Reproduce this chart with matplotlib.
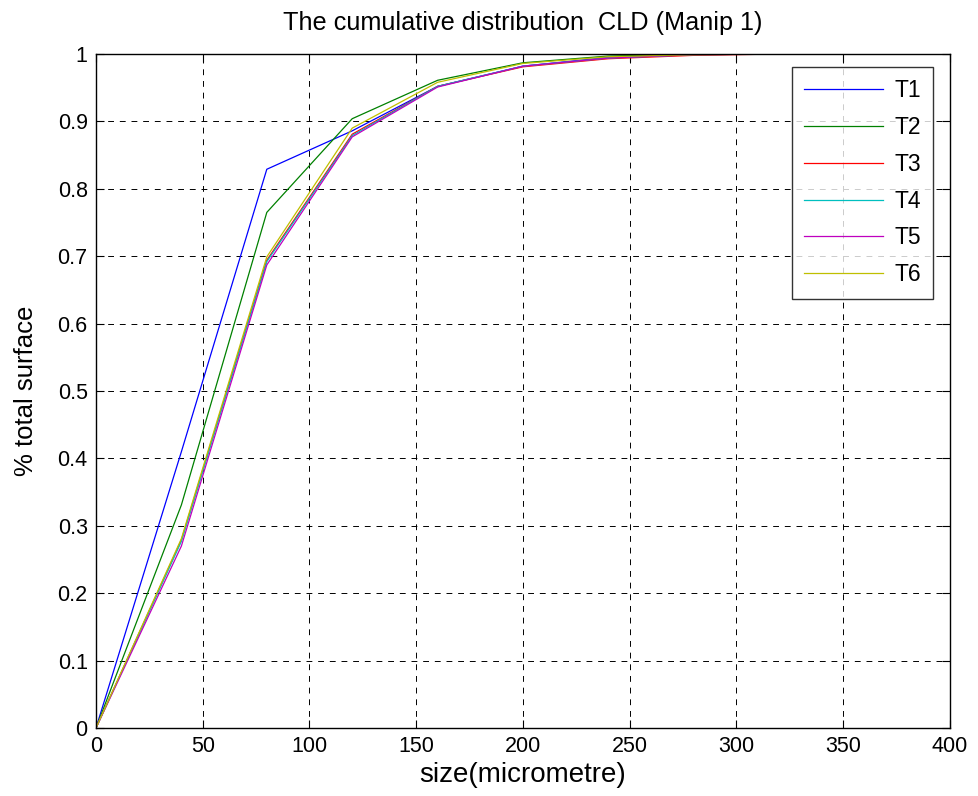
import matplotlib
matplotlib.use("Agg")
import matplotlib.pyplot as plt

plt.rcParams['font.family'] = ['Liberation Sans', 'DejaVu Sans']

size_um = [0, 40, 80, 120, 160, 200, 240, 280, 320, 360, 400]
T1 = [0, 0.410, 0.829, 0.886, 0.952, 0.982, 0.995, 0.999, 1.0, 1.0, 1.0]
T2 = [0, 0.331, 0.765, 0.904, 0.961, 0.987, 0.997, 1.0, 1.0, 1.0, 1.0]
T3 = [0, 0.279, 0.694, 0.881, 0.952, 0.981, 0.993, 0.998, 1.0, 1.0, 1.0]
T4 = [0, 0.277, 0.692, 0.879, 0.952, 0.982, 0.994, 0.999, 1.0, 1.0, 1.0]
T5 = [0, 0.270, 0.687, 0.877, 0.951, 0.982, 0.994, 0.999, 1.0, 1.0, 1.0]
T6 = [0, 0.281, 0.699, 0.890, 0.958, 0.986, 0.996, 0.999, 1.0, 1.0, 1.0]
labels = ['T1', 'T2', 'T3', 'T4', 'T5', 'T6']
colors = ['#0000ff', '#008000', '#ff0000', '#00bfbf', '#bf00bf', '#bfbf00']
xticks = [0, 50, 100, 150, 200, 250, 300, 350, 400]
yticks = [0, 0.1, 0.2, 0.3, 0.4, 0.5, 0.6, 0.7, 0.8, 0.9, 1]

fig = plt.figure(figsize=(9.79, 7.96), dpi=100)
ax = fig.add_axes([96/979, 68/796, 854/979, 674/796])

for vals, lab, c in zip([T1, T2, T3, T4, T5, T6], labels, colors):
    ax.plot(size_um, vals, color=c, lw=0.9, label=lab)

ax.set_xlim(0, 400)
ax.set_ylim(0, 1)
ax.set_xticks(xticks)
ax.set_yticks(yticks)
ax.set_yticklabels(['0', '0.1', '0.2', '0.3', '0.4', '0.5', '0.6', '0.7', '0.8', '0.9', '1'])
ax.tick_params(direction='in', top=True, right=True, labelsize=15.5, length=6, width=0.8, pad=6)
ax.grid(True, color='black', linestyle=(0, (6, 6)), linewidth=0.7)
for s in ax.spines.values():
    s.set_linewidth(1.0)

ax.set_title('The cumulative distribution  CLD (Manip 1)', fontsize=18.2, pad=17)
ax.set_xlabel('size(micrometre)', fontsize=20, labelpad=3)
ax.set_ylabel('% total surface', fontsize=18.5, labelpad=14)

leg = ax.legend(loc='upper right', bbox_to_anchor=(0.9805, 0.981), borderaxespad=0,
                fontsize=16.5, frameon=True, fancybox=False, edgecolor='black',
                handlelength=3.45, labelspacing=0.6, borderpad=0.55, handletextpad=0.47)
leg.get_frame().set_linewidth(1.0)

fig.savefig('out.png', dpi=100)
